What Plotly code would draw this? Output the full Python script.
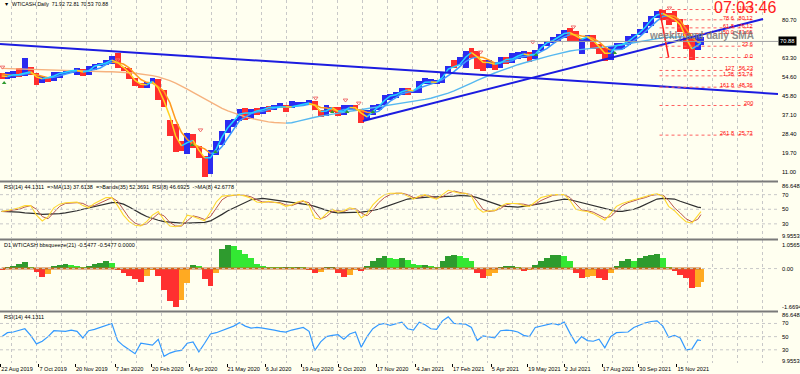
import pandas as pd
import plotly.graph_objects as go
from plotly.subplots import make_subplots

# ---------------- data (weekly samples) ----------------
week_dates = list(pd.date_range("2019-08-23", "2021-12-10", freq="7D")) + [pd.Timestamp("2021-12-14")]

price_high = [56.2,56.9,57.5,58.8,63.4,59.1,56.2,54.9,54.2,56.9,
              57.0,58.0,57.9,58.7,58.4,59.4,60.3,61.1,62.3,64.1,
              65.65,59.3,58.9,54.2,51.9,52.3,54.0,53.8,48.7,34.9,
              33.0,25.2,29.1,28.4,23.0,18.3,21.0,25.0,29.7,34.7,
              35.5,39.8,40.4,40.0,40.4,40.9,41.1,41.5,42.5,41.9,
              43.5,43.0,43.3,43.8,43.5,39.6,41.5,41.0,40.6,41.6,
              41.6,41.9,40.0,39.3,41.8,42.4,46.3,46.7,47.7,49.3,
              49.4,48.6,52.8,53.9,53.5,53.1,57.0,59.7,62.3,63.8,
              66.4,67.98,66.4,62.3,62.4,61.5,63.6,63.9,65.5,66.1,
              66.7,66.0,66.9,69.8,71.0,72.9,74.2,76.0,76.98,75.5,
              72.5,74.0,73.6,69.9,67.9,69.0,70.2,70.3,73.3,74.1,
              76.7,79.8,82.6,84.7,85.4,84.0,84.97,81.0,78.6,72.3,
              73.3,72.81]
price_low = [53.6,53.8,53.9,54.5,54.8,55.5,51.0,51.9,52.3,52.7,
             54.2,55.8,56.2,55.6,55.0,55.4,58.0,59.4,60.2,60.6,
             58.7,57.4,53.6,50.6,49.3,49.3,51.6,44.0,41.0,27.3,
             20.1,20.5,19.3,22.0,17.5,8.5,10.0,19.0,23.6,29.0,
             31.5,34.4,34.9,35.5,37.1,37.8,38.7,39.5,40.3,38.7,
             40.4,41.2,41.5,42.4,39.3,36.1,36.8,38.6,36.6,37.2,
             39.7,39.2,33.6,34.9,37.2,39.4,41.6,43.9,44.9,46.2,
             46.2,47.0,47.2,51.4,51.4,51.5,51.8,56.9,58.6,60.0,
             58.6,63.1,58.3,57.3,58.9,57.6,58.9,60.7,61.1,63.0,
             63.1,61.6,62.8,66.4,68.6,70.1,71.0,72.6,71.0,71.2,
             65.0,70.6,67.2,65.2,61.7,62.4,67.3,67.6,69.3,70.6,
             73.6,74.9,77.9,81.5,80.5,78.2,79.9,75.3,67.4,62.4,
             66.9,69.3]
price_close = [54.2,55.1,56.5,54.9,58.1,55.9,52.8,54.7,53.8,56.6,
               56.2,57.2,57.7,57.8,55.2,59.2,60.1,60.4,61.7,63.05,
               59.0,58.5,54.2,51.6,50.3,52.05,53.4,44.8,41.3,31.7,
               22.4,21.5,28.3,22.8,18.3,16.9,19.8,24.7,29.4,33.3,
               35.5,39.6,36.3,39.75,38.5,40.65,40.55,40.6,41.3,40.3,
               41.2,42.0,42.3,42.97,39.8,37.3,41.1,40.25,37.05,40.6,
               40.9,39.85,35.8,37.1,40.1,42.15,45.5,46.3,46.6,49.1,
               48.2,48.5,52.2,52.4,52.3,52.2,56.85,59.5,59.2,61.5,
               66.1,65.6,61.4,60.97,61.45,59.3,63.1,62.1,63.6,64.9,
               65.4,63.6,66.3,69.6,70.9,71.6,74.05,75.2,74.6,71.8,
               72.1,73.95,68.3,68.4,62.3,68.7,69.3,69.7,71.97,73.98,
               75.9,79.35,82.3,83.8,83.6,81.3,80.8,76.1,68.15,66.3,
               71.7,70.88]
sma_fast = [55.0,54.8,55.6,55.7,56.3,57.0,54.6,53.8,54.2,55.0,
            56.2,56.7,57.4,57.7,56.8,57.3,59.5,60.2,61.0,62.3,
            61.2,59.0,56.5,53.0,51.2,51.0,52.5,49.5,43.5,36.5,
            27.5,23.0,24.5,25.5,21.0,17.5,17.5,21.5,27.0,31.3,
            34.4,37.5,38.0,38.0,39.0,39.5,40.6,40.6,40.9,40.9,
            40.8,41.6,42.1,42.6,41.6,38.8,39.0,40.5,38.8,38.9,
            40.6,40.5,38.0,36.3,38.5,41.0,43.8,45.9,46.4,47.8,
            48.6,48.3,50.3,52.2,52.3,52.2,54.3,58.2,59.3,60.3,
            63.6,65.8,63.8,61.3,61.2,60.4,61.0,62.6,62.8,64.2,
            65.1,64.6,65.0,67.9,70.2,71.2,72.8,74.5,74.9,73.4,
            71.9,72.9,71.3,68.5,65.5,65.4,68.9,69.5,70.8,72.9,
            74.9,77.5,80.8,83.0,83.7,82.5,81.0,78.6,72.5,67.5,
            69.0,70.3]
sma_mid = [56.0,55.5,55.2,55.3,55.9,56.3,55.5,55.0,54.2,54.4,
           55.1,55.9,56.8,57.3,57.1,57.4,58.0,58.7,60.3,61.3,
           61.1,60.5,58.8,55.9,53.4,52.1,51.8,50.1,47.9,42.8,
           35.0,29.2,25.9,23.8,22.7,21.6,19.5,19.9,22.7,26.8,
           30.7,34.5,36.2,37.8,38.5,38.8,39.6,40.1,40.8,40.7,
           40.9,41.2,41.5,42.1,41.8,40.6,40.3,39.6,38.9,39.7,
           39.7,39.7,39.3,38.4,38.2,38.8,41.2,43.5,45.1,46.9,
           47.6,48.1,49.5,50.3,51.3,52.3,53.4,55.2,57.0,59.3,
           61.6,63.1,63.7,63.5,62.4,61.0,61.2,61.5,62.0,63.4,
           64.0,64.4,64.8,66.2,67.6,69.6,71.5,72.9,74.0,73.9,
           73.4,73.1,72.2,70.7,68.3,66.9,67.2,67.3,68.9,71.2,
           72.9,75.3,78.1,80.3,82.3,82.8,82.4,80.5,76.6,72.8,
           70.6,70.0]
sma_slow = [58.5,58.4,58.3,58.2,58.1,58.0,57.9,57.8,57.7,57.6,
            57.5,57.4,57.3,57.25,57.2,57.15,57.1,57.05,57.0,56.95,
            56.9,56.7,56.5,56.3,56.0,55.6,55.2,54.6,53.8,52.9,
            51.8,50.5,49.0,47.5,46.0,44.4,43.0,41.5,40.2,39.0,
            38.0,37.1,36.3,35.6,35.0,34.5,34.0,33.7,33.5,33.4,
            33.6,34.2,34.9,35.5,36.1,36.6,37.1,37.6,38.0,38.4,
            38.8,39.2,39.6,40.0,40.4,40.8,41.2,41.6,42.0,42.4,
            42.8,43.3,43.8,44.3,44.8,45.5,46.3,47.2,48.2,49.3,
            50.5,51.8,53.0,54.2,55.3,56.4,57.4,58.4,59.3,60.2,
            61.0,61.8,62.5,63.2,63.9,64.6,65.3,66.0,66.5,66.9,
            67.2,67.5,67.8,68.0,68.2,68.5,68.9,69.3,69.8,70.3,
            70.8,71.3,71.8,72.2,72.6,72.8,72.9,73.0,73.05,73.1,
            73.15,73.2]
rsi8 = [47,48,50,52,55,55,42,34,40,52,
        57,59,59,60,55,52,58,62,66,66,
        55,42,33,28,27,33,42,47,35,27,
        26,28,42,40,37,34,46,60,68,69,
        70,70,68,65,60,59,61,60,58,54,
        56,60,62,55,38,36,44,50,46,48,
        52,50,38,44,56,64,70,72,72,72,
        68,64,68,70,66,64,70,76,74,72,
        72,68,52,46,48,48,54,58,58,58,
        55,54,60,66,68,70,70,70,62,50,
        48,47,44,40,35,44,54,58,61,63,
        65,68,70,71,68,54,48,40,33,31,
        40,46.69]
rsi8_ma = [47,47,49,50,53,55,50,40,37,45,
           54,58,59,59,58,54,55,59,63,66,
           61,49,38,31,28,30,37,44,41,32,
           27,27,34,41,39,36,40,52,63,68,
           69,70,69,67,63,60,60,60,59,56,
           55,58,61,59,47,37,40,47,48,47,
           50,51,45,41,49,59,66,70,72,72,
           70,66,66,69,68,65,67,72,75,73,
           72,70,61,50,47,48,51,56,58,58,
           57,55,57,62,66,69,70,70,66,57,
           49,48,46,42,38,40,48,55,59,62,
           64,66,69,70,70,62,52,45,37,33,
           36,42.68]
rsi_bands = [47,47,46,46,45,45,44,43,43,43,
             44,45,46,48,50,52,54,56,58,59,
             59,57,53,48,44,40,37,35,33,32,
             31,31,31,31,31,32,34,38,43,48,
             52,56,60,63,64,65,64,63,62,61,
             60,59,58,56,54,51,48,46,45,45,
             45,46,46,47,48,50,53,56,59,62,
             64,65,66,67,67,67,67,68,68,69,
             69,68,66,63,60,57,55,54,53,53,
             54,55,56,57,59,61,63,64,63,61,
             59,57,55,53,51,48,47,47,48,50,
             53,57,61,64,65,65,64,61,58,55,
             53,52.37]
bbsqueeze = [-0.05,0.08,0.12,0.18,0.28,0.08,-0.15,-0.35,-0.22,0.10,
             0.15,0.18,0.15,0.12,0.08,0.10,0.18,0.25,0.32,0.25,
             -0.05,-0.20,-0.30,-0.45,-0.55,-0.30,-0.05,-0.30,-0.90,-1.35,
             -1.57,-1.30,-0.60,0.15,0.10,-0.45,-0.72,-0.20,0.80,0.98,
             0.92,0.75,0.62,0.45,0.20,0.10,0.08,0.06,0.05,0.08,
             0.05,0.07,0.05,-0.05,-0.20,-0.15,0.05,0.05,-0.20,-0.35,
             -0.25,-0.05,-0.10,0.10,0.30,0.45,0.50,0.45,0.40,0.45,
             0.35,0.20,0.15,0.15,0.10,0.05,0.30,0.50,0.55,0.50,
             0.45,0.30,-0.20,-0.40,-0.30,-0.20,0.05,0.10,0.10,0.05,
             -0.10,-0.05,0.15,0.30,0.45,0.55,0.55,0.50,0.30,-0.20,
             -0.40,-0.35,-0.30,-0.40,-0.47,-0.20,0.10,0.30,0.38,0.30,
             0.45,0.52,0.58,0.60,0.45,0.05,-0.10,-0.25,-0.40,-0.80,
             -0.75,-0.55]
rsi14 = [50,56,57,60,62,52,39,43,50,59,
         59,58,60,58,48,59,61,64,67,70,
         44,36,30,24,40,38,37,46,20,25,
         28,29,40,42,27,40,54,56,59,63,
         66,71,66,63,64,63,62,60,58,57,
         60,62,64,58,29,42,50,52,53,46,
         54,57,34,50,62,68,70,67,69,72,
         62,60,72,68,62,61,74,80,70,70,
         69,64,44,51,49,48,59,60,59,57,
         52,50,64,66,68,70,68,72,55,40,
         50,44,43,46,33,50,56,57,57,64,
         68,71,73,74,66,49,52,48,30,31,
         45,44.13]

# signal arrows seen on the price chart
sell_dates = ["2019-08-24", "2020-01-10", "2020-04-19", "2020-09-05", "2020-10-11", "2020-10-27",
              "2021-03-23", "2021-05-25", "2021-07-13", "2021-11-06"]
sell_prices = [59.1, 62.4, 30.3, 44.9, 44.0, 42.6, 66.0, 70.6, 77.5, 86.2]
buy_dates = ["2019-08-26", "2020-04-09", "2020-05-07", "2020-09-25", "2020-10-13", "2020-11-13",
             "2021-05-29", "2021-09-01"]
buy_prices = [51.8, 23.4, 20.2, 38.5, 38.5, 38.5, 64.6, 65.6]

# drawn objects
trend1_dates = ["2019-08-21", "2022-03-17"]
trend1_prices = [69.7, 46.8]
trend2_dates = ["2020-11-01", "2022-02-27"]
trend2_prices = [34.4, 81.2]
fib_dates = ["2021-10-25", "2021-11-05"]
fib_prices = [85.5, 63.5]
fib_end_date = "2022-02-16"
fib_levels = [0.0, 23.6, 50.0, 61.8, 78.6, 100.0, 127.0, 138.2, 161.8, 200.0, 261.8]
fib_texts = ["0.0", "23.6", "50.0   71.65", "61.8   76.12", "78.6   80.12", "100.0",
             "127   56.23", "1.38   53.74", "161.8   48.36", "200", "261.8   25.73"]
bid_price = 70.88

price_ticks = [11.00, 19.70, 28.40, 37.10, 45.80, 54.60, 63.30, 80.70]
rsi_ticks = [86.6482, 70, 50, 30, 9.9553]
rsi_tick_text = ["86.6482", "70", "50", "30", "9.9553"]
bbs_ticks = [1.0565, 0.0, -1.6694]
bbs_tick_text = ["1.0565", "0.00", "-1.6694"]
date_ticks = ["2019-08-22", "2019-10-07", "2019-11-20", "2020-01-07", "2020-02-20", "2020-04-06",
              "2020-05-21", "2020-07-06", "2020-08-19", "2020-10-02", "2020-11-17", "2021-01-04",
              "2021-02-17", "2021-04-05", "2021-05-19", "2021-07-02", "2021-08-17", "2021-09-30",
              "2021-11-15"]
date_tick_text = ["22 Aug 2019", "7 Oct 2019", "20 Nov 2019", "7 Jan 2020", "20 Feb 2020", "6 Apr 2020",
                  "21 May 2020", "6 Jul 2020", "19 Aug 2020", "2 Oct 2020", "17 Nov 2020", "4 Jan 2021",
                  "17 Feb 2021", "5 Apr 2021", "19 May 2021", "2 Jul 2021", "17 Aug 2021", "30 Sep 2021",
                  "15 Nov 2021"]

# ---------------- styling ----------------
BG = "#FFFFF0"
FONT = "Liberation Sans"
DAY_MS = 86400000
PLOT_H = 363  # plot-area height in px

fig = make_subplots(rows=4, cols=1, shared_xaxes=True, vertical_spacing=0)


def slope_runs(xs, ys):
    """split a line into rising / falling runs -> two (x, y) lists with None gaps"""
    out = {True: ([], []), False: ([], [])}
    n = len(ys)
    k = 0
    while k < n - 1:
        up = ys[k + 1] >= ys[k]
        j = k
        while j < n - 1 and (ys[j + 1] >= ys[j]) == up:
            j += 1
        px, py = out[up]
        px.extend(xs[k:j + 1] + [None])
        py.extend(ys[k:j + 1] + [None])
        k = j
    return out


# price bars (blue above fast MA, red below)
bar_colors = ["#2B2BF0" if c >= f else "#FF2E2E" for c, f in zip(price_close, sma_fast)]
fig.add_trace(go.Bar(x=week_dates, base=price_low,
                     y=[h - l for h, l in zip(price_high, price_low)],
                     width=7 * DAY_MS, marker=dict(color=bar_colors, line=dict(width=0)),
                     hoverinfo="skip"), row=1, col=1)

ma_styles = [(sma_slow, "#56B8F0", "#F6B27E", 1.4),
             (sma_mid, "#3D9BFF", "#FF9A1F", 1.5),
             (sma_fast, "#22D3FF", "#FFD21F", 1.5)]
for series, c_up, c_dn, w in ma_styles:
    runs = slope_runs(week_dates, series)
    for up, col in ((True, c_up), (False, c_dn)):
        fig.add_trace(go.Scatter(x=runs[up][0], y=runs[up][1], mode="lines",
                                 line=dict(color=col, width=w), hoverinfo="skip"), row=1, col=1)

# signal arrows
fig.add_trace(go.Scatter(x=sell_dates, y=sell_prices, mode="markers",
                         marker=dict(symbol="triangle-down-open", size=4, color="#F07070",
                                     line=dict(width=1, color="#F07070")), hoverinfo="skip"), row=1, col=1)
fig.add_trace(go.Scatter(x=buy_dates, y=buy_prices, mode="markers",
                         marker=dict(symbol="triangle-up", size=4, color="#2E9B2E"), hoverinfo="skip"),
              row=1, col=1)

# trend lines
for d, p in ((trend1_dates, trend1_prices), (trend2_dates, trend2_prices)):
    fig.add_trace(go.Scatter(x=d, y=p, mode="lines", line=dict(color="#1C1CE0", width=2),
                             hoverinfo="skip"), row=1, col=1)

# fibonacci
f_hi, f_lo = fib_prices
fib_y = [f_lo + lv / 100 * (f_hi - f_lo) if lv <= 100 else f_lo - (lv - 100) / 100 * (f_hi - f_lo)
         for lv in fib_levels]
fx, fy = [], []
for yv in fib_y:
    fx += [fib_dates[0], fib_end_date, None]
    fy += [yv, yv, None]
fig.add_trace(go.Scatter(x=fx, y=fy, mode="lines", line=dict(color="#FF6060", width=1, dash="dot"),
                         hoverinfo="skip"), row=1, col=1)
fig.add_trace(go.Scatter(x=fib_dates, y=fib_prices, mode="lines", line=dict(color="#FF2020", width=1.5),
                         hoverinfo="skip"), row=1, col=1)
for t, yv in zip(fib_texts, fib_y):
    fig.add_annotation(x=fib_end_date, y=yv, xref="x", yref="y", text=t, showarrow=False,
                       xanchor="right", yanchor="bottom", font=dict(color="#FF0000", size=5.6, family=FONT),
                       yshift=-2, borderpad=0)

# bid line
fig.add_hline(y=bid_price, line=dict(color="#A0A0A0", width=1), row=1, col=1)

# RSI pane
for series, col, w in ((rsi_bands, "#303030", 1.2), (rsi8_ma, "#B8584E", 1.0), (rsi8, "#FFD92E", 1.1)):
    fig.add_trace(go.Scatter(x=week_dates, y=series, mode="lines", line=dict(color=col, width=w),
                             hoverinfo="skip"), row=2, col=1)

# bbsqueeze histogram
bb_colors = []
for i, v in enumerate(bbsqueeze):
    prev = bbsqueeze[i - 1] if i > 0 else 0
    if v >= 0:
        bb_colors.append("#2E9B2E" if v >= prev else "#33E833")
    else:
        bb_colors.append("#FF3030" if v <= prev else "#FFAA22")
fig.add_trace(go.Bar(x=week_dates, y=bbsqueeze, width=7 * DAY_MS,
                     marker=dict(color=bb_colors, line=dict(width=0)), hoverinfo="skip"), row=3, col=1)
fig.add_hline(y=0, line=dict(color="#C8C8C8", width=1, dash="dot"), row=3, col=1)
fig.add_trace(go.Scatter(x=week_dates, y=[0] * len(week_dates), mode="lines",
                         line=dict(color="#CC6A1E", width=2), hoverinfo="skip"), row=3, col=1)

# RSI(14) pane
fig.add_trace(go.Scatter(x=week_dates, y=rsi14, mode="lines", line=dict(color="#3399FF", width=1.2),
                         hoverinfo="skip"), row=4, col=1)

for r in (2, 4):
    for lv in (70, 50, 30):
        fig.add_hline(y=lv, line=dict(color="#C8C8C8", width=1, dash="dot"), row=r, col=1)

# ---------------- axes ----------------
fig.update_xaxes(range=["2019-08-21", "2022-03-17"], showgrid=False, zeroline=False,
                 showline=False, showticklabels=False, automargin=False,
                 minor=dict(dtick=30.22 * DAY_MS, tick0="2019-09-03 22:30", showgrid=True,
                            gridcolor="#C8C8C8", griddash="dot", gridwidth=1))
fig.update_xaxes(row=4, col=1, showticklabels=True, tickmode="array", tickvals=date_ticks,
                 ticktext=date_tick_text, ticks="outside", ticklen=3, tickcolor="#000000",
                 tickangle=0, ticklabelposition="outside right",
                 tickfont=dict(size=5.6, family=FONT, color="black"))

domains = {"yaxis": [0.5014, 1.0], "yaxis2": [0.3430, 0.4972],
           "yaxis3": [0.1433, 0.3388], "yaxis4": [0.0, 0.1391]}
ranges = {"yaxis": [6.88, 89.87], "yaxis2": [9.9553, 86.6482],
          "yaxis3": [-1.752, 1.18], "yaxis4": [9.9553, 86.6482]}


def inset(axis, ticks, top_px, bottom_px):
    """MT4 prints the pane min/max labels a few px inside the pane edges"""
    lo, hi = ranges[axis]
    d0, d1 = domains[axis]
    per_px = (hi - lo) / ((d1 - d0) * PLOT_H)
    out = list(ticks)
    out[0] = ticks[0] - top_px * per_px
    out[-1] = ticks[-1] + bottom_px * per_px
    return out


common_y = dict(side="right", showgrid=False, zeroline=False, showline=False, ticks="",
                tickfont=dict(size=5.8, family=FONT, color="black"), ticklabelstandoff=3,
                tickmode="array", fixedrange=True, automargin=False)
fig.update_layout(
    yaxis=dict(domain=domains["yaxis"], range=ranges["yaxis"], tickvals=price_ticks,
               ticktext=["%.2f" % v for v in price_ticks], **common_y),
    yaxis2=dict(domain=domains["yaxis2"], range=ranges["yaxis2"],
                tickvals=inset("yaxis2", rsi_ticks, 3.5, 2.5), ticktext=rsi_tick_text, **common_y),
    yaxis3=dict(domain=domains["yaxis3"], range=ranges["yaxis3"],
                tickvals=inset("yaxis3", bbs_ticks, 2, 2), ticktext=bbs_tick_text, **common_y),
    yaxis4=dict(domain=domains["yaxis4"], range=ranges["yaxis4"],
                tickvals=inset("yaxis4", rsi_ticks, 2.5, 2), ticktext=rsi_tick_text, **common_y),
)

# pane separators
for yp in (0.5, 0.3402, 0.1419):
    fig.add_shape(type="line", xref="paper", yref="paper", x0=0, x1=1.0, y0=yp, y1=yp,
                  line=dict(color="#7A7A7A", width=2))

# ---------------- texts ----------------
def label(text, x, y, xref, yref, size=5.5, color="black", xanchor="left", yanchor="top", **kw):
    fig.add_annotation(text=text, x=x, y=y, xref=xref, yref=yref, showarrow=False,
                       xanchor=xanchor, yanchor=yanchor, borderpad=0,
                       font=dict(size=size, color=color, family=FONT), **kw)

label("▼  WTICASH,Daily  71.92 72.81 70.53 70.88", 0.004, 0.998, "paper", "y domain", size=5.2)
label("RSI(14) 44.1311  =>MA(13) 37.6138  =>Bands(35) 52.3691  RSI(8) 46.6925  ->MA(8) 42.6778",
      0.004, 0.99, "paper", "y2 domain")
label("D1 WTICASH bbsqueeze(21) -0.5477 -0.5477 0.0000", 0.004, 0.99, "paper", "y3 domain")
label("RSI(14) 44.1311", 0.004, 0.99, "paper", "y4 domain")
label("<b>weekly and daily SMA</b>", 0.902, 73.4, "paper", "y", size=10,
      color="rgba(120,120,120,0.85)", xanchor="center", yanchor="middle")
label("07:03:46", 0.999, 1.0, "paper", "paper", size=16, color="#FF2020", xanchor="right", yshift=2)
fig.add_annotation(text="%.2f" % bid_price, x=1.0, y=bid_price, xref="paper", yref="y", showarrow=False,
                   xanchor="left", yanchor="middle", bgcolor="#000000", borderpad=1,
                   font=dict(size=5.8, color="white", family=FONT))

fig.update_layout(width=800, height=374, margin=dict(l=0, r=22, t=0, b=11, autoexpand=False),
                  paper_bgcolor=BG, plot_bgcolor=BG, showlegend=False, bargap=0,
                  hovermode=False, font=dict(family=FONT, size=6, color="black"))

fig.write_html("out.html", config={"displayModeBar": False, "staticPlot": True},
               post_script="document.body.style.margin='0';document.body.style.padding='0';")
